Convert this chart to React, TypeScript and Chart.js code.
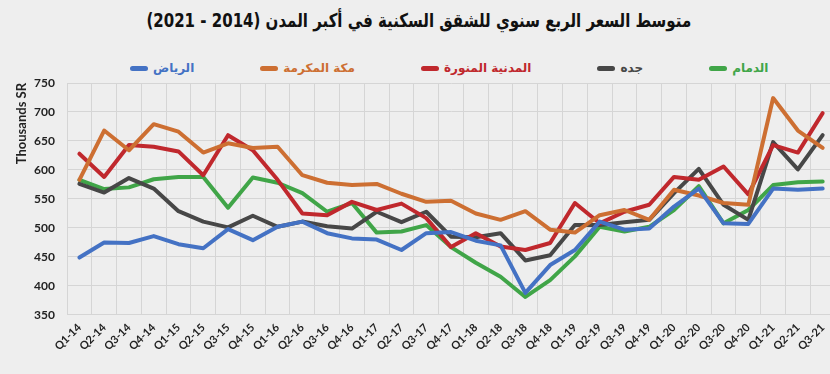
import React, { useEffect, useRef } from "react";
import { Chart, registerables } from "chart.js";

Chart.register(...registerables);

const quarters = [
  "Q1-14", "Q2-14", "Q3-14", "Q4-14",
  "Q1-15", "Q2-15", "Q3-15", "Q4-15",
  "Q1-16", "Q2-16", "Q3-16", "Q4-16",
  "Q1-17", "Q2-17", "Q3-17", "Q4-17",
  "Q1-18", "Q2-18", "Q3-18", "Q4-18",
  "Q1-19", "Q2-19", "Q3-19", "Q4-19",
  "Q1-20", "Q2-20", "Q3-20", "Q4-20",
  "Q1-21", "Q2-21", "Q3-21",
];

const riyadh = [449, 475, 474, 486, 472, 465, 498, 479, 502, 511, 491, 482, 480, 462, 491, 493, 478, 470, 388, 436, 462, 511, 497, 499, 537, 568, 508, 507, 568, 566, 568];
const makkah = [583, 668, 634, 679, 666, 630, 646, 638, 640, 591, 578, 574, 576, 559, 545, 547, 525, 514, 529, 497, 492, 522, 531, 514, 566, 556, 543, 540, 724, 668, 638];
const madinah = [628, 588, 643, 640, 632, 591, 660, 634, 583, 525, 522, 545, 531, 542, 517, 467, 491, 468, 462, 474, 543, 508, 528, 540, 588, 583, 606, 558, 643, 630, 698];
const jeddah = [576, 561, 586, 568, 529, 511, 501, 521, 502, 511, 503, 499, 528, 510, 528, 485, 484, 491, 444, 453, 505, 505, 510, 514, 560, 602, 540, 514, 648, 601, 660];
const dammam = [583, 567, 570, 584, 588, 588, 535, 587, 578, 560, 528, 543, 492, 494, 505, 467, 440, 416, 381, 410, 451, 502, 494, 502, 531, 572, 508, 531, 574, 579, 580];

const seriesNames = ["الرياض", "مكة المكرمة", "المدنية المنورة", "جده", "الدمام"];
const seriesColors = ["#4472C4", "#CD6F32", "#C0282D", "#474747", "#40A548"];
const seriesData = [riyadh, makkah, madinah, jeddah, dammam];

const yTicks = { min: 350, max: 750, step: 50 };
const titleText = "متوسط السعر الربع سنوي للشقق السكنية في أكبر المدن (2014 - 2021)";
const yAxisTitle = "Thousands SR";

const BG = "#eeeeee";
const GRID = "#d5d5d5";
const LATIN = "Lato, 'Open Sans', sans-serif";
const ARABIC = "'DejaVu Sans', sans-serif";

export default function App() {
  const ref = useRef<HTMLCanvasElement | null>(null);

  useEffect(() => {
    if (!ref.current) return;
    const chart = new Chart(ref.current, {
      type: "line",
      data: {
        labels: quarters,
        datasets: seriesData.map((d, i) => ({
          label: seriesNames[i],
          data: d,
          borderColor: seriesColors[i],
          backgroundColor: seriesColors[i],
          borderWidth: 4,
          pointRadius: 0,
          tension: 0,
          borderJoinStyle: "round" as const,
          borderCapStyle: "round" as const,
        })),
      },
      options: {
        responsive: false,
        maintainAspectRatio: false,
        devicePixelRatio: 1,
        animation: false,
        layout: { padding: { top: 83, left: 10, right: 0, bottom: 15 } },
        plugins: {
          legend: { display: false },
          title: { display: false },
          tooltip: { enabled: false },
        },
        scales: {
          x: {
            offset: true,
            grid: { offset: true, color: GRID, lineWidth: 1, drawTicks: false },
            border: { color: GRID },
            afterFit: (scale: any) => {
              scale.paddingLeft = 0;
            },
            ticks: {
              autoSkip: false,
              minRotation: 45,
              maxRotation: 45,
              padding: 6,
              color: "#222222",
              font: { family: LATIN, size: 11, weight: "bold" },
            },
          },
          y: {
            min: yTicks.min,
            max: yTicks.max,
            grid: { color: GRID, lineWidth: 1, drawTicks: false },
            border: { color: GRID },
            afterFit: (scale: any) => {
              scale.width = 57;
            },
            ticks: {
              stepSize: yTicks.step,
              padding: 12,
              color: "#222222",
              font: { family: LATIN, size: 12, weight: "bold" },
            },
            title: {
              display: true,
              text: yAxisTitle,
              align: "end",
              color: "#222222",
              padding: { top: 4, bottom: 4 },
              font: { family: LATIN, size: 13, weight: "bold" },
            },
          },
        },
      },
    });
    return () => chart.destroy();
  }, []);

  return (
    <div
      style={{
        position: "fixed",
        left: 0,
        top: 0,
        width: 830,
        height: 374,
        background: BG,
        overflow: "hidden",
      }}
    >
      <div
        style={{
          position: "absolute",
          left: 0,
          top: 6,
          width: 838,
          textAlign: "center",
        }}
      >
        <div
          dir="rtl"
          style={{
            display: "inline-block",
            fontFamily: ARABIC,
            fontWeight: "bold",
            fontSize: 19,
            lineHeight: "28px",
            color: "#111111",
            transform: "scaleX(0.79)",
            transformOrigin: "center",
            whiteSpace: "nowrap",
          }}
        >
          {titleText}
        </div>
      </div>
      <div
        style={{
          position: "absolute",
          left: 130,
          top: 58,
          display: "flex",
          flexDirection: "row",
          gap: 66,
          alignItems: "center",
          height: 20,
        }}
      >
        {seriesNames.map((n, i) => (
          <div key={n} style={{ display: "flex", alignItems: "center", gap: 5 }}>
            <span
              style={{
                display: "inline-block",
                width: 18,
                height: 5,
                borderRadius: 3,
                background: seriesColors[i],
              }}
            />
            <span
              dir="rtl"
              style={{
                fontFamily: ARABIC,
                fontWeight: "bold",
                fontSize: 12,
                color: seriesColors[i],
              }}
            >
              {n}
            </span>
          </div>
        ))}
      </div>
      <canvas
        ref={ref}
        width={838}
        height={374}
        style={{ position: "absolute", left: 0, top: 0 }}
      />
    </div>
  );
}
